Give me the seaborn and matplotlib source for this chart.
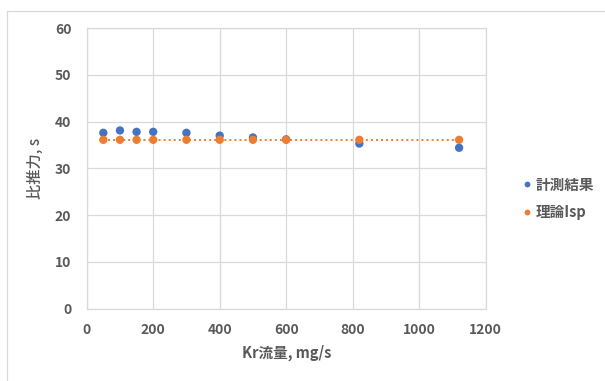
import numpy as np
import pandas as pd
import matplotlib
matplotlib.use("Agg")
import matplotlib.pyplot as plt
import seaborn as sns
from matplotlib.patches import Rectangle

# Kr mass flow rate (mg/s)
flow = [50, 100, 150, 200, 300, 400, 500, 600, 820, 1120]
# measured specific impulse (s)
measured = [37.6, 38.1, 37.8, 37.8, 37.6, 37.0, 36.6, 36.2, 35.3, 34.4]
# theoretical Isp (s)
theory = [36.1, 36.1, 36.1, 36.1, 36.1, 36.1, 36.1, 36.1, 36.1, 36.1]

series_names = ["計測結果", "理論Isp"]
xticks = [0, 200, 400, 600, 800, 1000, 1200]
yticks = [0, 10, 20, 30, 40, 50, 60]

sns.set_theme(style="white")
plt.rcParams["font.family"] = ["Noto Sans CJK JP", "DejaVu Sans"]

df = pd.DataFrame({
    "flow": flow * 2,
    "isp": measured + theory,
    "series": [series_names[0]] * len(flow) + [series_names[1]] * len(flow),
})

blue = "#4472C4"
orange = "#ED7D31"
text_col = "#595959"
grid_col = "#D9D9D9"

fig = plt.figure(figsize=(6.05, 3.81), dpi=100)
ax = fig.add_axes([0.1433, 0.1898, 0.8028 - 0.1433, 0.9265 - 0.1898])

# outer chart frame
fig.patches.append(Rectangle((7 / 605, -0.01), 1.0, 1 - 11 / 381 + 0.01,
                             transform=fig.transFigure, fill=False,
                             edgecolor="#D9D9D9", linewidth=0.9))

sns.lineplot(data=df[df["series"] == series_names[1]], x="flow", y="isp",
             color=orange, linestyle=(0, (1, 1.6)), linewidth=1.4, ax=ax,
             legend=False, zorder=2)
sns.scatterplot(data=df, x="flow", y="isp", hue="series",
                palette={series_names[0]: blue, series_names[1]: orange},
                s=36, edgecolor="none", ax=ax, zorder=3)

ax.set_xlim(0, 1200)
ax.set_ylim(0, 60)
ax.set_xticks(xticks)
ax.set_yticks(yticks)
ax.grid(True, color=grid_col, linewidth=0.9)
ax.set_axisbelow(True)
for sp in ax.spines.values():
    sp.set_color(grid_col)
    sp.set_linewidth(0.9)
ax.tick_params(axis="both", length=0, labelsize=10, labelcolor=text_col, pad=10)
for lab in ax.get_xticklabels() + ax.get_yticklabels():
    lab.set_fontweight("bold")
ax.tick_params(axis="y", pad=11)

ax.set_xlabel("Kr流量, mg/s", fontsize=10.5, color=text_col, fontweight="bold", labelpad=6)
ax.set_ylabel("比推力, s", fontsize=11, color=text_col, fontweight="medium", labelpad=8)

leg = ax.legend(loc="center left", bbox_to_anchor=(1.071, 0.393), frameon=False,
                borderpad=0, handlelength=0.8, handletextpad=0.2,
                labelspacing=0.8, markerscale=0.7,
                prop={"size": 10.5, "weight": "bold"})
for t in leg.get_texts():
    t.set_color(text_col)

fig.savefig("out.png", dpi=100)
